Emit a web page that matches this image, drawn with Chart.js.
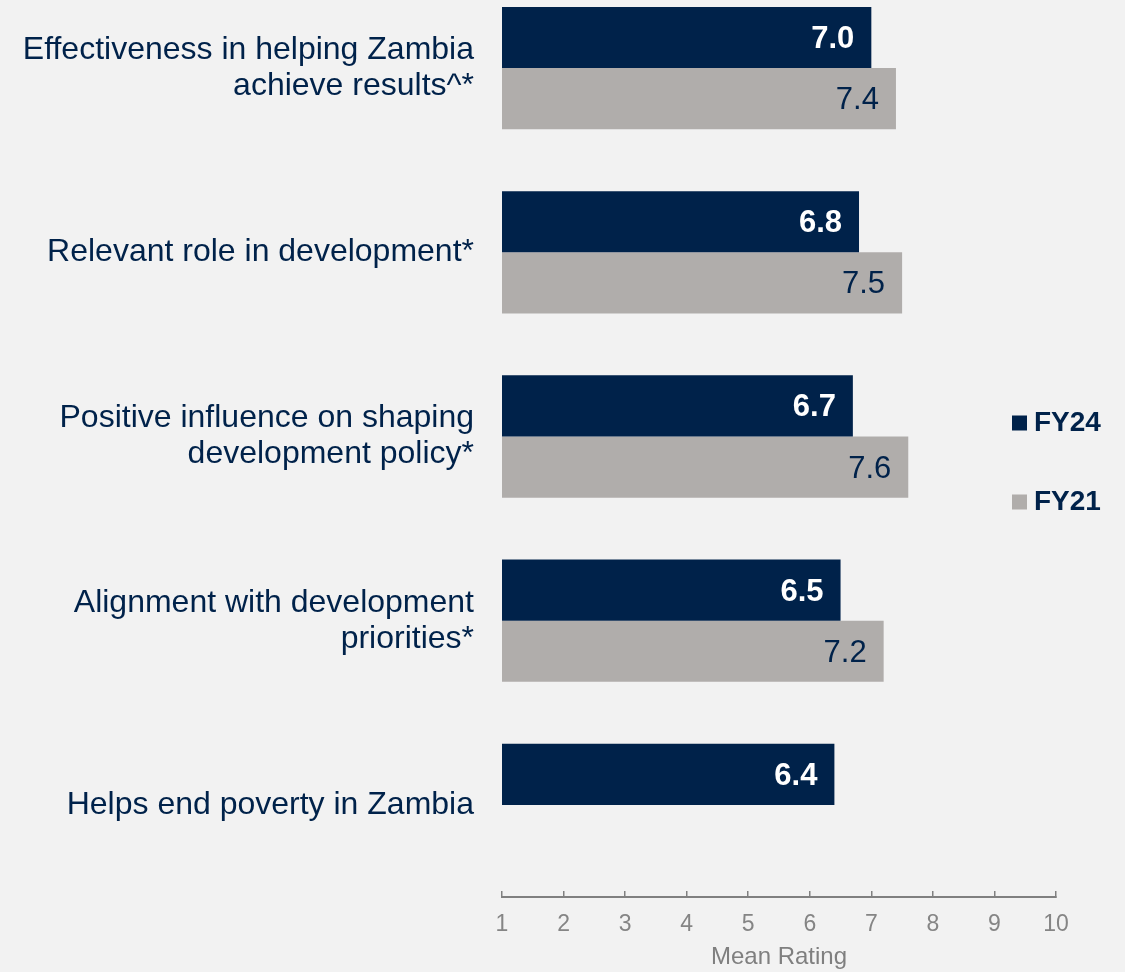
<!DOCTYPE html>
<html>
<head>
<meta charset="utf-8">
<script src="https://cdn.jsdelivr.net/npm/chart.js@4.4.0/dist/chart.umd.min.js"></script>
<style>
  html, body { margin: 0; padding: 0; background: #f2f2f2; overflow: hidden; }
  #wrap { position: absolute; left: 0; top: -24px; width: 1125px; height: 996px; }
</style>
</head>
<body>
<div id="wrap"><canvas id="barChart"></canvas></div>
<script>
const categorias = [
  ['Effectiveness in helping Zambia', 'achieve results^*'],
  'Relevant role in development*',
  ['Positive influence on shaping', 'development policy*'],
  ['Alignment with development', 'priorities*'],
  'Helps end poverty in Zambia'
];
const nomesSeries = ['FY24', 'FY21'];
const fy24 = [7.0, 6.8, 6.7, 6.5, 6.4];
const fy21 = [7.4, 7.5, 7.6, 7.2, null];
const xTicks = [1, 2, 3, 4, 5, 6, 7, 8, 9, 10];
const tituloX = 'Mean Rating';

const NAVY = '#00224a';
const CINZA = '#b0adab';
const FONTE = '"Liberation Sans", Arial, sans-serif';

// rotulos de valor dentro das barras
const rotulosBarras = {
  id: 'rotulosBarras',
  afterDatasetsDraw(chart) {
    const ctx = chart.ctx;
    chart.data.datasets.forEach((ds, i) => {
      const meta = chart.getDatasetMeta(i);
      meta.data.forEach((bar, j) => {
        const v = ds.data[j];
        if (v == null) return;
        ctx.save();
        ctx.font = (i === 0 ? 'bold ' : '') + '31px ' + FONTE;
        ctx.fillStyle = i === 0 ? '#ffffff' : NAVY;
        ctx.textAlign = 'right';
        ctx.textBaseline = 'middle';
        ctx.fillText(v.toFixed(1), bar.x - 17, bar.y + 2);
        ctx.restore();
      });
    });
  }
};

// legenda fica por cima da margem direita do grafico
const moverLegenda = {
  id: 'moverLegenda',
  afterLayout(chart) {
    const lg = chart.legend;
    const pad = lg.options.labels.padding;
    lg.left = chart.chartArea.right - 37 - pad;
    lg.right = chart.width;
    lg.top = 433 - pad;
    lg.bottom = chart.height;
  }
};

const ctx = document.getElementById('barChart').getContext('2d');
new Chart(ctx, {
  type: 'bar',
  data: {
    labels: categorias,
    datasets: [
      { label: nomesSeries[0], data: fy24, backgroundColor: NAVY, borderWidth: 0 },
      { label: nomesSeries[1], data: fy21, backgroundColor: CINZA, borderWidth: 0 }
    ]
  },
  options: {
    indexAxis: 'y',
    responsive: true,
    maintainAspectRatio: false,
    animation: false,
    layout: { padding: 0 },
    datasets: {
      bar: { categoryPercentage: 0.664, barPercentage: 1.0 }
    },
    scales: {
      x: {
        type: 'linear',
        min: 1,
        max: 10,
        afterBuildTicks: s => { s.ticks = xTicks.map(v => ({ value: v })); },
        afterFit: s => { s.height = 75; },
        grid: { drawOnChartArea: false, drawTicks: true, tickLength: -6, color: '#808080', lineWidth: 1.5 },
        border: { display: true, color: '#808080', width: 2 },
        ticks: { color: '#858585', font: { family: FONTE, size: 23 }, padding: 20 },
        title: { display: true, text: tituloX, color: '#7f7f7f', font: { family: FONTE, size: 24 }, padding: 0 }
      },
      y: {
        type: 'category',
        afterFit: s => { s.width = 502; s.paddingTop = 0; s.paddingBottom = 0; },
        grid: { display: false, drawTicks: false },
        border: { display: false },
        ticks: { color: NAVY, font: { family: FONTE, size: 32, lineHeight: 1.125 }, padding: 28 }
      }
    },
    plugins: {
      legend: {
        position: 'right',
        align: 'start',
        maxWidth: 69,
        labels: {
          color: NAVY,
          usePointStyle: true,
          pointStyle: 'rect',
          boxWidth: 1,
          boxHeight: 15,
          padding: 51,
          font: { family: FONTE, size: 28, weight: 'bold' }
        }
      },
      tooltip: { enabled: false }
    }
  },
  plugins: [rotulosBarras, moverLegenda]
});
</script>
</body>
</html>
